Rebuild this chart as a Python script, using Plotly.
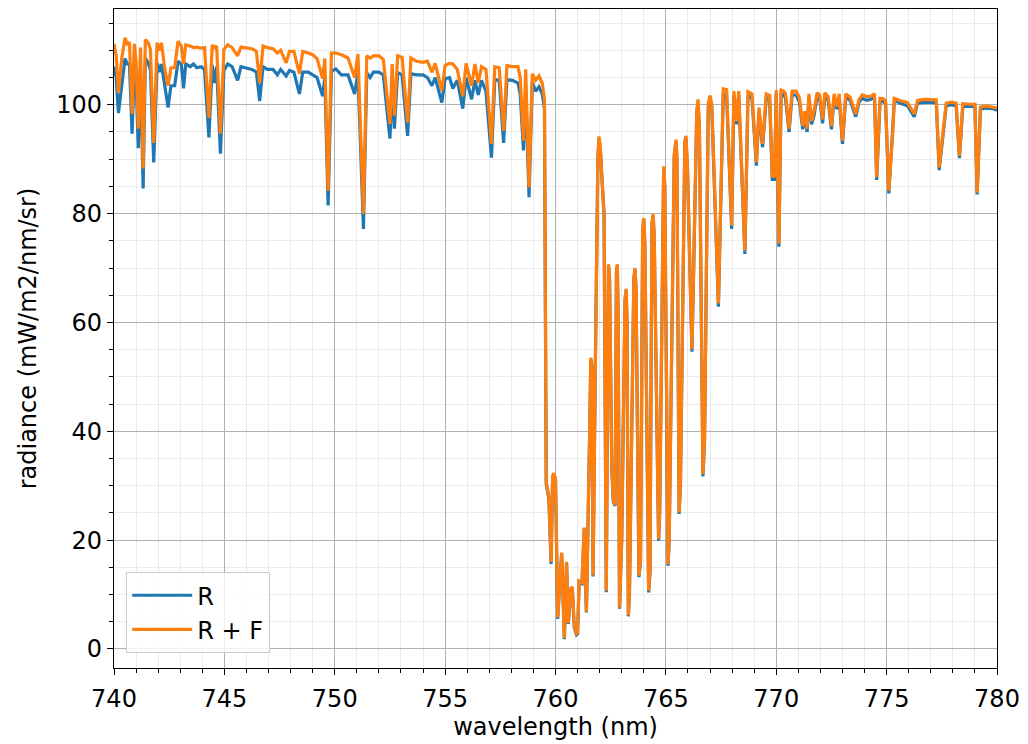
import plotly.graph_objects as go

wavelength = [
    740.00, 740.10, 740.20, 740.35, 740.50, 740.60, 740.70, 740.82, 740.92, 741.00,
    741.10, 741.20, 741.32, 741.42, 741.55, 741.65, 741.80, 741.95, 742.08, 742.15,
    742.30, 742.45, 742.58, 742.75, 742.90, 743.05, 743.15, 743.25, 743.45, 743.60,
    743.75, 743.95, 744.10, 744.30, 744.45, 744.55, 744.65, 744.82, 744.98, 745.15,
    745.35, 745.60, 745.75, 746.00, 746.25, 746.45, 746.60, 746.75, 746.95, 747.20,
    747.40, 747.55, 747.80, 747.95, 748.15, 748.40, 748.55, 748.80, 749.00, 749.20,
    749.45, 749.55, 749.70, 749.85, 750.05, 750.30, 750.60, 750.90, 751.05, 751.30,
    751.45, 751.60, 751.75, 752.00, 752.20, 752.50, 752.60, 752.70, 752.85, 753.05,
    753.30, 753.45, 753.70, 754.00, 754.20, 754.40, 754.55, 754.85, 755.00, 755.20,
    755.35, 755.55, 755.80, 755.95, 756.20, 756.35, 756.50, 756.65, 756.85, 757.10,
    757.25, 757.45, 757.65, 757.80, 758.05, 758.30, 758.40, 758.55, 758.65, 758.80,
    758.95, 759.10, 759.25, 759.40, 759.50, 759.58, 759.70, 759.80, 759.87, 759.92,
    760.00, 760.10, 760.22, 760.28, 760.40, 760.50, 760.58, 760.70, 760.76, 760.85,
    760.95, 761.00, 761.07, 761.20, 761.30, 761.40, 761.55, 761.60, 761.65, 761.70,
    761.80, 761.92, 761.97, 762.03, 762.10, 762.20, 762.30, 762.36, 762.40, 762.45,
    762.55, 762.62, 762.70, 762.76, 762.80, 762.84, 762.90, 763.00, 763.15, 763.20,
    763.24, 763.30, 763.35, 763.55, 763.60, 763.65, 763.78, 763.85, 763.95, 764.00,
    764.05, 764.22, 764.28, 764.37, 764.42, 764.47, 764.67, 764.72, 764.86, 764.90,
    764.95, 765.10, 765.15, 765.38, 765.46, 765.50, 765.60, 765.66, 765.86, 765.91,
    765.98, 766.18, 766.26, 766.40, 766.46, 766.52, 766.68, 766.75, 766.92, 767.00,
    767.08, 767.38, 767.60, 767.67, 767.75, 767.98, 768.08, 768.20, 768.30, 768.58,
    768.72, 768.90, 769.10, 769.22, 769.38, 769.55, 769.70, 769.82, 769.92, 770.00,
    770.12, 770.22, 770.35, 770.42, 770.58, 770.72, 770.90, 771.05, 771.20, 771.30,
    771.40, 771.48, 771.60, 771.72, 771.85, 771.97, 772.10, 772.20, 772.35, 772.50,
    772.62, 772.75, 772.85, 773.00, 773.15, 773.35, 773.60, 773.75, 773.90, 774.10,
    774.30, 774.45, 774.55, 774.70, 774.85, 774.95, 775.10, 775.28, 775.35, 775.60,
    775.95, 776.25, 776.40, 776.70, 777.00, 777.25, 777.38, 777.55, 777.70, 777.95,
    778.15, 778.30, 778.45, 778.75, 779.00, 779.10, 779.25, 779.50, 779.80, 780.00,
]

radiance_R = [
    107.0, 105.0, 98.5, 103.5, 108.5, 107.5, 107.5, 94.7, 107.0, 104.5,
    92.0, 106.5, 84.6, 108.6, 107.7, 106.5, 89.4, 107.7, 106.0, 107.5,
    103.0, 99.5, 103.5, 103.5, 108.0, 107.5, 103.0, 107.5, 107.0, 107.5,
    106.8, 107.0, 106.5, 94.0, 107.3, 104.0, 107.0, 91.0, 106.3, 107.5,
    107.0, 104.5, 107.0, 106.8, 106.5, 106.0, 100.7, 107.0, 106.5, 106.5,
    105.5, 106.5, 105.3, 106.3, 106.0, 102.0, 106.0, 106.0, 105.5, 105.0,
    101.6, 105.0, 81.5, 106.2, 106.6, 105.5, 105.5, 102.0, 106.0, 77.2,
    105.9, 105.0, 106.0, 106.0, 105.5, 93.8, 104.0, 95.6, 105.9, 105.5,
    94.3, 105.7, 105.5, 105.5, 105.0, 103.5, 105.0, 100.4, 104.8, 105.0,
    103.0, 104.5, 99.3, 105.0, 101.0, 104.5, 101.8, 104.5, 102.5, 90.3,
    104.6, 104.5, 93.0, 104.6, 104.5, 104.0, 102.0, 91.6, 103.0, 83.0,
    104.2, 102.5, 103.3, 102.0, 99.3, 30.3, 27.6, 15.6, 31.5, 32.0,
    31.1, 5.5, 14.0, 17.4, 1.8, 15.8, 4.6, 11.0, 11.2, 4.0,
    2.6, 2.8, 12.3, 12.0, 22.1, 6.7, 40.0, 53.2, 52.0, 13.3,
    50.0, 90.0, 93.9, 92.0, 86.7, 79.7, 10.4, 50.0, 70.4, 68.0,
    33.3, 27.0, 26.3, 69.0, 70.4, 60.0, 7.4, 20.0, 64.0, 65.9,
    60.0, 6.0, 10.0, 68.0, 69.7, 66.0, 13.2, 16.0, 77.0, 78.9,
    74.0, 10.4, 14.0, 78.0, 79.6, 76.0, 19.9, 25.0, 86.0, 88.3,
    85.0, 15.3, 20.0, 90.5, 93.2, 90.0, 24.8, 30.0, 93.0, 93.9,
    88.0, 54.6, 70.0, 98.5, 100.5, 95.0, 31.7, 38.0, 99.5, 101.1,
    99.5, 62.9, 102.2, 101.3, 102.0, 77.2, 101.8, 96.4, 101.8, 72.6,
    101.7, 101.2, 88.8, 98.8, 92.2, 101.3, 101.0, 86.3, 86.3, 102.0,
    73.9, 102.0, 101.8, 101.2, 95.0, 101.8, 101.8, 100.5, 95.5, 98.0,
    95.0, 101.3, 96.4, 98.2, 101.5, 101.0, 96.6, 101.5, 100.8, 95.5,
    101.3, 99.2, 101.3, 92.8, 101.4, 100.8, 97.8, 100.5, 101.2, 100.8,
    101.0, 101.5, 86.2, 100.5, 100.6, 100.2, 83.7, 94.8, 100.8, 100.3,
    99.8, 97.8, 100.3, 100.5, 100.4, 100.4, 88.0, 94.7, 99.8, 100.0,
    99.8, 90.2, 99.7, 99.7, 99.7, 83.5, 99.2, 99.4, 99.3, 99.0,
]

radiance_RF = [
    111.2, 109.0, 102.2, 108.5, 112.3, 111.2, 111.5, 98.3, 111.2, 108.0,
    95.6, 110.5, 88.3, 112.0, 111.4, 110.2, 93.0, 111.4, 110.0, 111.4,
    106.6, 103.5, 106.8, 106.8, 111.7, 110.8, 107.5, 111.0, 110.8, 110.5,
    110.6, 110.4, 110.5, 97.6, 111.0, 110.5, 110.8, 94.7, 110.2, 111.0,
    110.5, 109.0, 110.6, 110.5, 110.3, 109.8, 104.0, 110.8, 110.5, 110.3,
    109.5, 110.0, 107.7, 109.8, 109.8, 105.7, 109.8, 109.5, 109.2, 108.5,
    104.8, 108.5, 84.2, 109.5, 109.5, 109.2, 108.6, 105.0, 109.3, 80.0,
    109.0, 108.6, 109.0, 109.0, 108.3, 96.5, 107.5, 98.0, 109.0, 108.7,
    96.7, 108.6, 108.0, 107.8, 108.0, 106.0, 107.6, 102.6, 107.2, 107.6,
    107.5, 106.5, 101.6, 107.6, 103.5, 107.5, 104.0, 107.0, 106.5, 92.8,
    107.0, 106.8, 95.2, 107.2, 107.0, 107.0, 105.0, 93.4, 106.5, 84.8,
    105.7, 104.5, 105.3, 104.0, 101.0, 30.7, 27.9, 16.0, 31.8, 32.3,
    31.4, 5.8, 14.3, 17.7, 2.0, 16.0, 4.8, 11.2, 11.4, 4.2,
    2.8, 3.0, 12.5, 12.2, 22.3, 6.9, 40.3, 53.5, 52.3, 13.5,
    50.3, 90.3, 94.2, 92.3, 87.0, 80.0, 10.7, 50.3, 70.7, 68.3,
    33.5, 27.2, 26.5, 69.3, 70.7, 60.3, 7.6, 20.2, 64.3, 66.2,
    60.3, 6.2, 10.2, 68.3, 70.0, 66.3, 13.5, 16.3, 77.3, 79.2,
    74.3, 10.7, 14.3, 78.3, 79.9, 76.3, 20.2, 25.3, 86.4, 88.7,
    85.4, 15.6, 20.3, 90.9, 93.6, 90.4, 25.1, 30.3, 93.4, 94.3,
    88.4, 55.1, 70.5, 99.0, 101.0, 95.5, 32.1, 38.4, 100.1, 101.7,
    100.1, 63.5, 102.9, 102.8, 102.8, 77.8, 102.5, 97.0, 102.5, 73.2,
    102.4, 102.0, 89.4, 99.5, 92.8, 102.0, 101.7, 86.9, 86.9, 102.7,
    74.5, 102.7, 102.5, 102.0, 95.6, 102.5, 102.5, 101.3, 96.1, 98.8,
    95.6, 102.0, 97.0, 99.0, 102.2, 101.8, 97.3, 102.2, 101.5, 96.1,
    102.0, 99.7, 102.0, 93.4, 102.0, 101.4, 98.3, 101.0, 101.8, 101.5,
    101.6, 102.0, 86.7, 101.2, 101.1, 100.7, 84.2, 95.2, 101.2, 100.8,
    100.4, 98.3, 100.8, 101.0, 100.9, 100.9, 88.5, 95.2, 100.3, 100.5,
    100.3, 90.6, 100.2, 100.1, 100.1, 83.9, 99.6, 99.8, 99.6, 99.4,
]

x_ticks = [740, 745, 750, 755, 760, 765, 770, 775, 780]
y_ticks = [0, 20, 40, 60, 80, 100]

FONT = "DejaVu Sans"
FS = 24

fig = go.Figure()
fig.add_trace(go.Scatter(x=wavelength, y=radiance_R, mode="lines", name="R",
                         line=dict(color="#1f77b4", width=3.2)))
fig.add_trace(go.Scatter(x=wavelength, y=radiance_RF, mode="lines", name="R + F",
                         line=dict(color="#ff7f0e", width=3.2)))

axis_common = dict(
    showline=True, linecolor="black", linewidth=1.3, mirror=True,
    ticks="outside", ticklen=6, tickwidth=1.3, tickcolor="black",
    showgrid=True, gridcolor="#b0b0b0", gridwidth=1.3,
    zeroline=False,
    tickfont=dict(family=FONT, size=FS, color="black"),
)

fig.update_xaxes(
    range=[740, 780], tickvals=x_ticks, ticktext=[str(v) for v in x_ticks],
    ticklabelstandoff=3,
    title=dict(text="wavelength (nm)", font=dict(family=FONT, size=FS, color="black"), standoff=6),
    minor=dict(dtick=1, showgrid=True, gridcolor="#ebebeb", gridwidth=1,
               ticks="outside", ticklen=3.5, tickcolor="black", tickwidth=1),
    **axis_common,
)
fig.update_yaxes(
    range=[-3.5, 117.6], tickvals=y_ticks, ticktext=[str(v) for v in y_ticks],
    title=dict(text="radiance (mW/m2/nm/sr)", font=dict(family=FONT, size=FS, color="black"), standoff=12),
    minor=dict(dtick=5, showgrid=True, gridcolor="#ebebeb", gridwidth=1,
               ticks="outside", ticklen=3.5, tickcolor="black", tickwidth=1),
    **axis_common,
)

fig.update_layout(
    width=1028, height=744,
    margin=dict(l=114, r=23, t=8, b=76),
    paper_bgcolor="white", plot_bgcolor="white",
    font=dict(family=FONT, size=FS, color="black"),
    showlegend=True,
    legend=dict(x=0.0135, y=0.023, xanchor="left", yanchor="bottom",
                bgcolor="rgba(255,255,255,0.8)", bordercolor="#cccccc", borderwidth=1.3,
                font=dict(family=FONT, size=FS, color="black"),
                tracegroupgap=0, itemwidth=60),
)

fig.write_html("out.html", config={"displayModeBar": False},
               post_script="document.body.style.margin='0';")
